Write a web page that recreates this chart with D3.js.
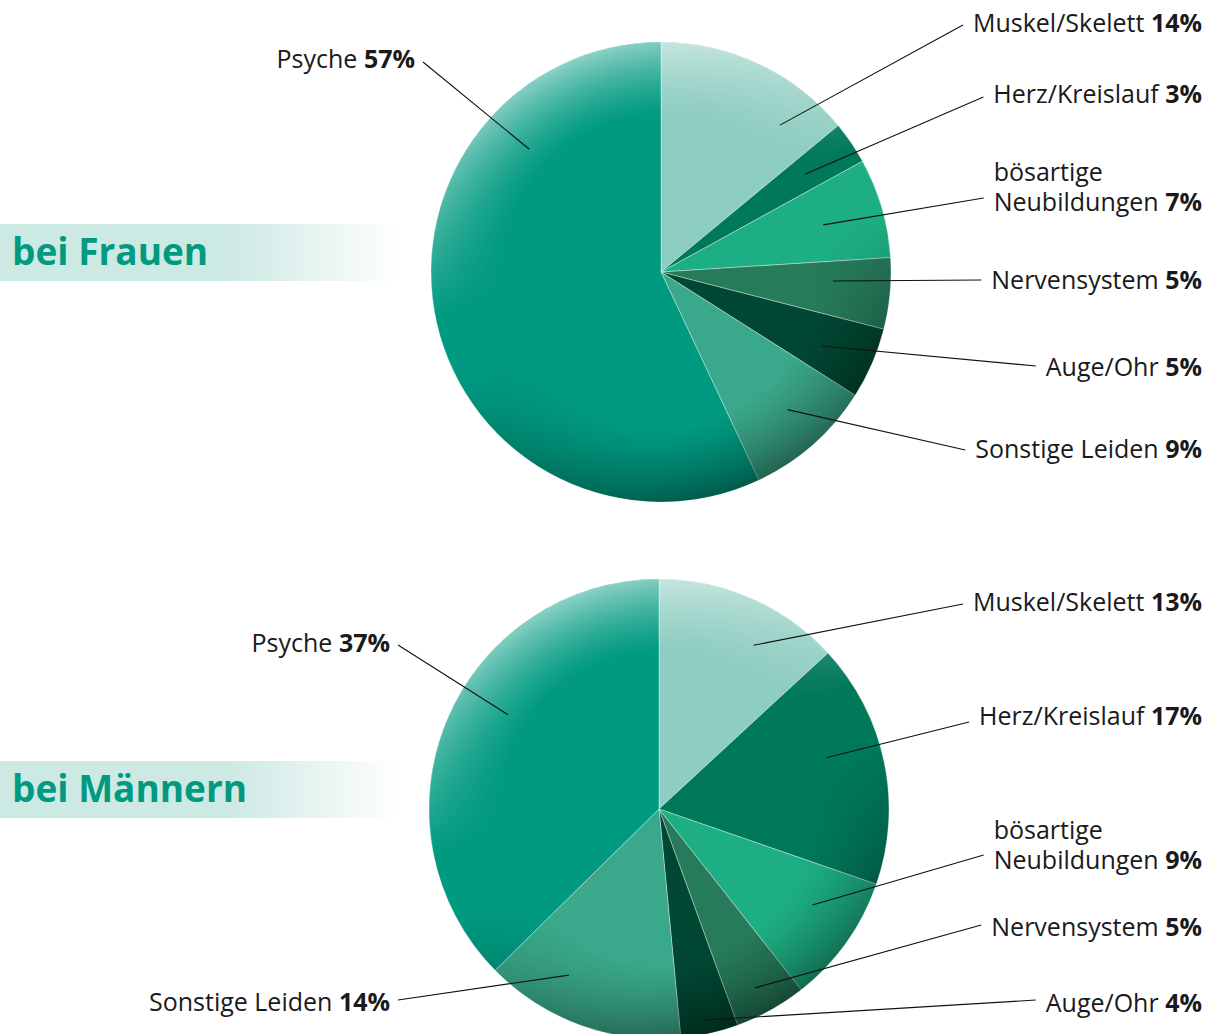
<!DOCTYPE html>
<html>
<head>
<meta charset="utf-8">
<script src="https://cdn.jsdelivr.net/npm/d3@7"></script>
<style>
  body { margin: 0; background: #fff; }
  svg { display: block; font-family: "Open Sans", sans-serif; }
</style>
</head>
<body>
<div id="chart"></div>
<script>
/**
 * DATA
 * */
const categories = ["Muskel/Skelett", "Herz/Kreislauf", "bösartige Neubildungen", "Nervensystem", "Auge/Ohr", "Sonstige Leiden", "Psyche"];
const valuesFrauen = [14, 3, 7, 5, 5, 9, 57];
const valuesMaenner = [13, 17, 9, 5, 4, 14, 37];
const groupTitles = ["bei Frauen", "bei Männern"];

/**
 * LAYOUT / STYLE
 * */
const width = 1208,
  height = 1034,
  radius = 230,
  fontSize = 25,
  labelRight = 1202;

const colors = ["#8ecdc1", "#00785a", "#1daf83", "#267b5a", "#004833", "#3aa88a", "#009a80"];

// where each leader line starts inside its slice (angle in degrees from 12 o'clock, distance from center)
// and where its label sits
const layouts = [
  {
    cx: 661, cy: 272, bandY: 224,
    anchorAngle: [39, 55.8, 73.8, 93, 114.7, 137.4, 313],
    anchorR: [189, 174, 169, 172, 177, 187, 180],
    side: ["r", "r", "r", "r", "r", "r", "l"],
    labelY: [23, 94, 202, 280, 367, 449, 59],
    lineY: [25, 97, 198, 280, 366, 450, 62],
    leftEnd: [0, 0, 0, 0, 0, 0, 415]
  },
  {
    cx: 659, cy: 809, bandY: 761,
    anchorAngle: [30, 73, 122, 151.8, 167.7, 208.5, 302],
    anchorR: [189, 175, 181, 203, 216, 189, 178],
    side: ["r", "r", "r", "r", "r", "l", "l"],
    labelY: [602, 716, 860, 927, 1003, 1002, 643],
    lineY: [604, 722, 855, 925, 1000, 1000, 645],
    leftEnd: [0, 0, 0, 0, 0, 390, 390]
  }
];

const svg = d3.select("#chart")
  .append("svg")
  .attr("width", width)
  .attr("height", height);

const defs = svg.append("defs");

// title band: solid, then fading out to the right
const band = defs.append("linearGradient").attr("id", "band")
  .attr("x1", 0).attr("x2", 1).attr("y1", 0).attr("y2", 0);
band.append("stop").attr("offset", 0).attr("stop-color", "#cde9e4");
band.append("stop").attr("offset", 0.57).attr("stop-color", "#cde9e4");
band.append("stop").attr("offset", 1).attr("stop-color", "#ffffff");

// rim shading of the pies
const ring = defs.append("radialGradient").attr("id", "ringFade");
ring.append("stop").attr("offset", 0).attr("stop-color", "#000");
ring.append("stop").attr("offset", 0.68).attr("stop-color", "#000");
ring.append("stop").attr("offset", 1).attr("stop-color", "#fff");

defs.append("mask").attr("id", "ringMask")
  .append("circle").attr("r", radius).attr("fill", "url(#ringFade)");

const shade = defs.append("linearGradient").attr("id", "shade")
  .attr("x1", 0.3).attr("y1", 0).attr("x2", 0.7).attr("y2", 1);
shade.append("stop").attr("offset", 0).attr("stop-color", "#fff").attr("stop-opacity", 0.6);
shade.append("stop").attr("offset", 0.42).attr("stop-color", "#fff").attr("stop-opacity", 0);
shade.append("stop").attr("offset", 0.55).attr("stop-color", "#000").attr("stop-opacity", 0);
shade.append("stop").attr("offset", 1).attr("stop-color", "#000").attr("stop-opacity", 0.45);

const pie = d3.pie().sort(null).value(d => d);
const arc = d3.arc().innerRadius(0).outerRadius(radius);

const color = d3.scaleOrdinal().domain(categories).range(colors);

// width of a "name pct" line, used to find where a right-aligned label starts
function lineWidth(name, pct) {
  const tmp = svg.append("text").attr("font-size", fontSize);
  tmp.append("tspan").text(name + " ");
  tmp.append("tspan").attr("font-weight", 700).text(pct);
  const w = tmp.node().getComputedTextLength();
  tmp.remove();
  return w;
}

[valuesFrauen, valuesMaenner].forEach((values, gi) => {
  const lay = layouts[gi];

  // title band + title
  svg.append("rect")
    .attr("x", 0).attr("y", lay.bandY)
    .attr("width", 400).attr("height", 57)
    .attr("fill", "url(#band)");
  svg.append("text")
    .attr("x", 12).attr("y", lay.bandY + 41)
    .attr("font-size", 37).attr("font-weight", 700)
    .attr("fill", "#009a80")
    .text(groupTitles[gi]);

  const g = svg.append("g").attr("transform", `translate(${lay.cx},${lay.cy})`);

  const arcs = pie(values);

  g.selectAll("path.slice")
    .data(arcs)
    .join("path")
    .attr("class", "slice")
    .attr("d", arc)
    .attr("fill", (d, i) => color(categories[i]))
    .attr("stroke", "rgba(255,255,255,0.45)")
    .attr("stroke-width", 0.8);

  g.append("circle")
    .attr("r", radius)
    .attr("fill", "url(#shade)")
    .attr("mask", "url(#ringMask)");

  // labels
  const labels = svg.append("g");
  arcs.forEach((d, i) => {
    const name = categories[i];
    const pct = values[i] + "%";
    const baseY = lay.labelY[i] + 0.357 * fontSize;

    let lastLine = name;
    let firstLine = null;
    if (name === "bösartige Neubildungen") {
      firstLine = "bösartige";
      lastLine = "Neubildungen";
    }

    const right = lay.side[i] === "r";
    const endX = right ? labelRight : lay.leftEnd[i];
    const startX = endX - lineWidth(lastLine, pct);
    const lineEndX = right ? startX - 10 : endX + 8;

    const t = labels.append("text")
      .attr("font-size", fontSize)
      .attr("fill", "#1a1a1a");
    if (firstLine) {
      t.append("tspan")
        .attr("x", startX).attr("y", baseY - 30)
        .attr("text-anchor", "start")
        .text(firstLine);
    }
    t.append("tspan")
      .attr("x", endX).attr("y", baseY)
      .attr("text-anchor", "end")
      .text(lastLine + " ");
    t.append("tspan").attr("font-weight", 700).text(pct);

    const a = lay.anchorAngle[i] * Math.PI / 180;
    const ax = lay.cx + lay.anchorR[i] * Math.sin(a);
    const ay = lay.cy - lay.anchorR[i] * Math.cos(a);

    labels.append("line")
      .attr("x1", ax).attr("y1", ay)
      .attr("x2", lineEndX).attr("y2", lay.lineY[i])
      .attr("stroke", "#111")
      .attr("stroke-width", 1.1);
  });
});
</script>
</body>
</html>
